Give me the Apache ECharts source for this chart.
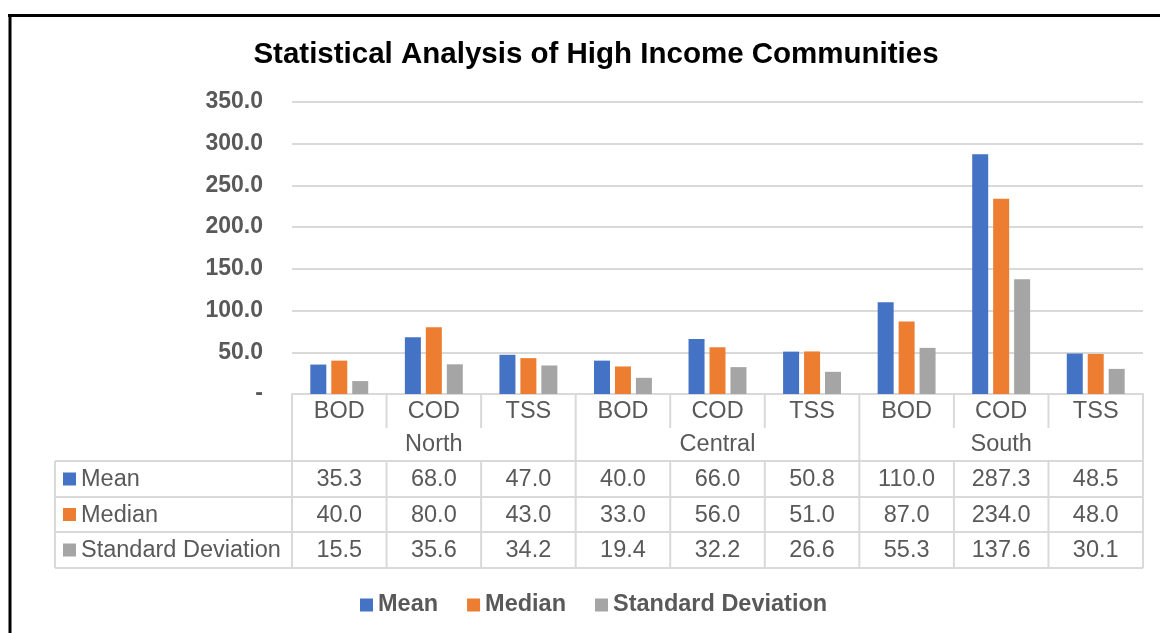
<!DOCTYPE html>
<html>
<head>
<meta charset="utf-8">
<title>Statistical Analysis of High Income Communities</title>
<script src="https://cdn.jsdelivr.net/npm/echarts@6/dist/echarts.min.js"></script>
<style>
    html, body { margin: 0; padding: 0; background: #fff; }
    #chart { width: 1160px; height: 633px; }
</style>
</head>
<body>
<div id="chart"></div>
<script>
const params = ['BOD', 'COD', 'TSS', 'BOD', 'COD', 'TSS', 'BOD', 'COD', 'TSS'];
const regions = ['North', 'Central', 'South'];
const seriesNames = ['Mean', 'Median', 'Standard Deviation'];
const meanData = [35.3, 68.0, 47.0, 40.0, 66.0, 50.8, 110.0, 287.3, 48.5];
const medianData = [40.0, 80.0, 43.0, 33.0, 56.0, 51.0, 87.0, 234.0, 48.0];
const stdData = [15.5, 35.6, 34.2, 19.4, 32.2, 26.6, 55.3, 137.6, 30.1];
const colors = ['#4472C4', '#ED7D31', '#A5A5A5'];

const textColor = '#595959';
const lineColor = '#d9d9d9';
const font = 'Arial, "Liberation Sans", sans-serif';
const tableFontSize = 23.5;

// plot area / table layout
const plotLeft = 292, plotRight = 1143, plotTop = 102, plotBottom = 394;
const colW = (plotRight - plotLeft) / params.length;
const tableLeft = 55;
const groupRowTop = 428, rowTops = [461, 497, 532], tableBottom = 568;

function buildTable() {
    const g = [];
    const line = (x1, y1, x2, y2) => g.push({
        type: 'line',
        shape: { x1: x1, y1: y1, x2: x2, y2: y2 },
        style: { stroke: lineColor, lineWidth: 2 }
    });
    // horizontal rules
    rowTops.concat([tableBottom]).forEach(y => line(tableLeft, y, plotRight, y));
    // vertical rules
    line(tableLeft, rowTops[0], tableLeft, tableBottom);
    for (let k = 0; k <= params.length; k++) {
        const x = plotLeft + k * colW;
        if (k % 3 === 0) {
            line(x, plotBottom, x, tableBottom);
        } else {
            line(x, plotBottom, x, groupRowTop);
            line(x, rowTops[0], x, tableBottom);
        }
    }
    // rows
    const rows = [meanData, medianData, stdData];
    rows.forEach((vals, i) => {
        const top = rowTops[i];
        const bottom = i < rowTops.length - 1 ? rowTops[i + 1] : tableBottom;
        const cy = (top + bottom) / 2;
        g.push({
            type: 'rect',
            shape: { x: 63, y: cy - 6.5, width: 13, height: 13 },
            style: { fill: colors[i] }
        });
        g.push({
            type: 'text',
            x: 81, y: cy + 1,
            style: { text: seriesNames[i], fill: textColor, font: tableFontSize + 'px ' + font, verticalAlign: 'middle', textAlign: 'left' }
        });
        vals.forEach((v, j) => {
            g.push({
                type: 'text',
                x: plotLeft + (j + 0.5) * colW, y: cy + 1,
                style: { text: v.toFixed(1), fill: textColor, font: tableFontSize + 'px ' + font, verticalAlign: 'middle', textAlign: 'center' }
            });
        });
    });
    // outer black frame (top and left)
    g.push({ type: 'line', shape: { x1: 8, y1: 15.5, x2: 1160, y2: 15.5 }, style: { stroke: '#000', lineWidth: 3 } });
    g.push({ type: 'line', shape: { x1: 10, y1: 14, x2: 10, y2: 633 }, style: { stroke: '#000', lineWidth: 3 } });
    return g;
}

const chart = echarts.init(document.getElementById('chart'));

const option = {
    animation: false,
    color: colors,
    title: {
        text: 'Statistical Analysis of High Income Communities',
        left: 591,
        textAlign: 'center',
        top: 35,
        textStyle: { fontFamily: font, fontSize: 29.5, fontWeight: 'bold', color: '#000' }
    },
    legend: {
        top: 588,
        left: 355,
        itemWidth: 13,
        itemHeight: 13,
        itemGap: 29,
        icon: 'rect',
        textStyle: { fontFamily: font, fontSize: 23.5, fontWeight: 'bold', color: textColor },
        data: seriesNames
    },
    grid: {
        left: plotLeft,
        right: 1160 - plotRight,
        top: plotTop,
        bottom: 633 - plotBottom,
        containLabel: false
    },
    xAxis: [
        {
            type: 'category',
            data: params,
            axisLine: { show: true, lineStyle: { color: lineColor, width: 2 } },
            axisTick: { show: false },
            axisLabel: { color: textColor, fontFamily: font, fontSize: tableFontSize, margin: 6, interval: 0 }
        },
        {
            type: 'category',
            data: regions,
            position: 'bottom',
            offset: groupRowTop - plotBottom,
            axisLine: { show: false },
            axisTick: { show: false },
            axisLabel: { color: textColor, fontFamily: font, fontSize: tableFontSize, margin: 5, interval: 0 }
        }
    ],
    yAxis: {
        type: 'value',
        min: 0,
        max: 350,
        interval: 50,
        axisLine: { show: false },
        axisTick: { show: false },
        splitLine: { lineStyle: { color: lineColor, width: 2 } },
        axisLabel: {
            color: textColor,
            fontFamily: font,
            fontSize: 23,
            fontWeight: 'bold',
            margin: 29,
            formatter: v => v === 0 ? '-' : v.toFixed(1)
        }
    },
    series: [
        { name: seriesNames[0], type: 'bar', data: meanData, barWidth: 16, barGap: '31%' },
        { name: seriesNames[1], type: 'bar', data: medianData, barWidth: 16, barGap: '31%' },
        { name: seriesNames[2], type: 'bar', data: stdData, barWidth: 16, barGap: '31%' }
    ],
    graphic: buildTable()
};

chart.setOption(option);

window.addEventListener('resize', function() {
    chart.resize();
});
</script>
</body>
</html>
